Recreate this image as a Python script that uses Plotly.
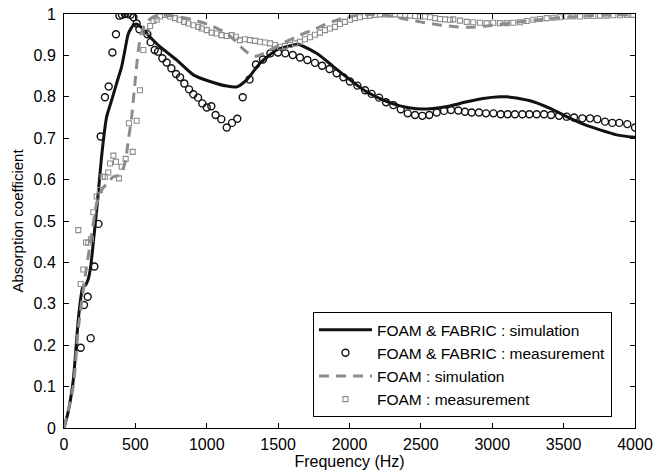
import plotly.graph_objects as go

# FOAM & FABRIC : simulation
ff_sim_f = [0, 30, 65, 100, 120, 131, 150, 170, 187, 205, 229, 268, 299, 334, 369, 404, 427, 451, 486, 509,
            540, 579, 672, 789, 906, 1023, 1140, 1210, 1280, 1373, 1490, 1606, 1640, 1770, 1887, 2004, 2120,
            2237, 2354, 2471, 2587, 2704, 2821, 2937, 3054, 3101, 3170, 3288, 3405, 3521, 3638, 3755, 3872, 4000]
ff_sim_a = [0, 0.04, 0.116, 0.261, 0.32, 0.34, 0.345, 0.36, 0.39, 0.447, 0.527, 0.671, 0.752, 0.792, 0.833,
            0.873, 0.913, 0.953, 0.973, 0.976, 0.968, 0.953, 0.921, 0.889, 0.853, 0.837, 0.826, 0.824, 0.841,
            0.881, 0.913, 0.925, 0.927, 0.905, 0.873, 0.841, 0.812, 0.792, 0.778, 0.771, 0.772, 0.778, 0.788,
            0.796, 0.800, 0.800, 0.797, 0.788, 0.772, 0.752, 0.734, 0.720, 0.708, 0.702]

# FOAM & FABRIC : measurement
ff_meas_f = [117, 140, 166, 187, 213, 241, 257, 287, 313, 339, 364, 388, 406, 427, 446, 467, 486, 509, 528,
             584, 607, 635, 659, 689, 719, 752, 785, 813, 843, 876, 906, 939, 969, 1000, 1032, 1062, 1102,
             1140, 1177, 1214, 1252, 1300, 1345, 1394, 1446, 1499, 1550, 1602, 1653, 1705, 1758, 1808, 1860,
             1910, 1957, 2003, 2055, 2109, 2155, 2207, 2256, 2307, 2359, 2408, 2459, 2510, 2559, 2611, 2662,
             2711, 2762, 2809, 2856, 2907, 2956, 3008, 3059, 3108, 3159, 3211, 3260, 3311, 3363, 3412, 3468,
             3521, 3573, 3631, 3685, 3736, 3790, 3841, 3890, 3946, 4000]
ff_meas_a = [0.194, 0.297, 0.317, 0.217, 0.390, 0.493, 0.704, 0.799, 0.825, 0.907, 0.951, 0.996, 0.998, 1.000,
             1.000, 0.998, 0.992, 0.977, 0.963, 0.951, 0.932, 0.913, 0.909, 0.893, 0.883, 0.869, 0.855, 0.847,
             0.832, 0.818, 0.806, 0.798, 0.784, 0.774, 0.777, 0.756, 0.746, 0.726, 0.737, 0.747, 0.799, 0.842,
             0.878, 0.890, 0.905, 0.907, 0.905, 0.901, 0.895, 0.889, 0.882, 0.875, 0.867, 0.857, 0.847, 0.837,
             0.827, 0.816, 0.807, 0.798, 0.787, 0.780, 0.770, 0.760, 0.756, 0.754, 0.756, 0.762, 0.766, 0.768,
             0.767, 0.764, 0.762, 0.762, 0.760, 0.760, 0.758, 0.758, 0.758, 0.758, 0.758, 0.758, 0.758, 0.756,
             0.754, 0.752, 0.750, 0.748, 0.748, 0.746, 0.740, 0.737, 0.737, 0.734, 0.726]

# FOAM : simulation
fo_sim_f = [0, 65, 100, 150, 190, 229, 264, 299, 346, 392, 427, 451, 474, 497, 521, 544, 579, 626, 672, 766,
            906, 1023, 1140, 1200, 1256, 1300, 1345, 1400, 1536, 1653, 1746, 1875, 2004, 2150, 2237, 2354,
            2494, 2622, 2751, 2849, 2961, 3101, 3241, 3405, 3638, 3872, 4000]
fo_sim_a = [0, 0.10, 0.24, 0.37, 0.46, 0.543, 0.575, 0.59, 0.607, 0.611, 0.64, 0.696, 0.752, 0.833, 0.913,
            0.957, 0.981, 0.993, 0.998, 0.995, 0.986, 0.973, 0.953, 0.935, 0.915, 0.903, 0.898, 0.905, 0.930,
            0.949, 0.962, 0.981, 0.994, 0.999, 0.999, 0.990, 0.981, 0.974, 0.969, 0.968, 0.971, 0.977, 0.983,
            0.989, 0.995, 0.998, 0.998]

# FOAM : measurement
fo_meas_f = [100, 117, 135, 154, 170, 189, 205, 229, 252, 271, 287, 310, 322, 346, 364, 385, 404, 432, 455,
             481, 509, 532, 556, 579, 603, 626, 649, 672, 708, 743, 778, 809, 841, 871, 906, 941, 965, 1000,
             1034, 1069, 1104, 1139, 1174, 1204, 1232, 1267, 1302, 1338, 1373, 1408, 1443, 1478, 1513, 1548,
             1583, 1618, 1653, 1688, 1723, 1758, 1793, 1828, 1863, 1898, 1933, 1968, 2003, 2038, 2073, 2108,
             2143, 2178, 2214, 2249, 2284, 2319, 2354, 2389, 2424, 2459, 2494, 2529, 2564, 2599, 2634, 2669,
             2704, 2727, 2774, 2821, 2867, 2914, 2961, 3007, 3054, 3101, 3147, 3194, 3241, 3288, 3334, 3381,
             3428, 3474, 3521, 3568, 3615, 3661, 3708, 3755, 3801, 3848, 3895, 3942, 3988]
fo_meas_a = [0.478, 0.348, 0.383, 0.448, 0.448, 0.456, 0.521, 0.559, 0.575, 0.607, 0.607, 0.617, 0.639, 0.658,
             0.643, 0.603, 0.631, 0.650, 0.736, 0.667, 0.742, 0.816, 0.913, 0.957, 0.971, 0.983, 0.986, 0.994,
             0.998, 0.994, 0.990, 0.986, 0.981, 0.977, 0.973, 0.969, 0.965, 0.961, 0.955, 0.953, 0.949, 0.947,
             0.949, 0.945, 0.937, 0.939, 0.937, 0.935, 0.933, 0.931, 0.929, 0.925, 0.921, 0.923, 0.925, 0.929,
             0.933, 0.939, 0.944, 0.950, 0.955, 0.961, 0.965, 0.969, 0.976, 0.981, 0.986, 0.990, 0.992, 0.995,
             0.996, 0.998, 0.999, 0.999, 0.999, 0.999, 0.998, 0.998, 0.996, 0.995, 0.994, 0.994, 0.992, 0.990,
             0.988, 0.987, 0.986, 0.987, 0.984, 0.981, 0.980, 0.979, 0.978, 0.979, 0.978, 0.978, 0.979, 0.980,
             0.983, 0.986, 0.988, 0.990, 0.991, 0.992, 0.994, 0.994, 0.994, 0.995, 0.995, 0.996, 0.996, 0.997,
             0.997, 0.998, 0.998]

x_ticks = [0, 500, 1000, 1500, 2000, 2500, 3000, 3500, 4000]
y_ticks = [0, 0.1, 0.2, 0.3, 0.4, 0.5, 0.6, 0.7, 0.8, 0.9, 1]
y_tick_text = ["0", "0.1", "0.2", "0.3", "0.4", "0.5", "0.6", "0.7", "0.8", "0.9", "1"]

FONT = "Liberation Sans, Arial, Helvetica, sans-serif"
GREY = "#8c8c8c"

fig = go.Figure()
fig.add_trace(go.Scatter(x=ff_sim_f, y=ff_sim_a, mode="lines", name="FOAM & FABRIC : simulation",
                         line=dict(color="#111111", width=3, shape="spline", smoothing=0.6)))
fig.add_trace(go.Scatter(x=ff_meas_f, y=ff_meas_a, mode="markers", name="FOAM & FABRIC : measurement",
                         marker=dict(symbol="circle-open", size=7, color="#111111", line=dict(width=1.4))))
fig.add_trace(go.Scatter(x=fo_sim_f, y=fo_sim_a, mode="lines", name="FOAM : simulation",
                         line=dict(color=GREY, width=3, dash="10px,7px", shape="spline", smoothing=0.6)))
fig.add_trace(go.Scatter(x=fo_meas_f, y=fo_meas_a, mode="markers", name="FOAM : measurement",
                         marker=dict(symbol="square-open", size=5, color=GREY, line=dict(width=1.1))))

axis_common = dict(showline=True, linecolor="black", linewidth=1, mirror="ticks", ticks="inside",
                   ticklen=5, tickcolor="black", showgrid=False, zeroline=False, automargin=False,
                   tickfont=dict(family=FONT, size=16, color="black"))

fig.update_layout(
    width=665, height=471,
    margin=dict(l=64, r=30, t=14, b=43),
    paper_bgcolor="white", plot_bgcolor="white",
    font=dict(family=FONT, size=16, color="black"),
    xaxis=dict(range=[0, 4000], tickvals=x_ticks, ticktext=[str(v) for v in x_ticks],
               ticklabelstandoff=2,
               title=dict(text="Frequency (Hz)", font=dict(family=FONT, size=16), standoff=0),
               **axis_common),
    yaxis=dict(range=[0, 1], tickvals=y_ticks, ticktext=y_tick_text,
               ticklabelstandoff=4,
               title=dict(text="Absorption coefficient", font=dict(family=FONT, size=15), standoff=6),
               **axis_common),
    legend=dict(x=0.436, y=0.28, xanchor="left", yanchor="top", bgcolor="white",
                bordercolor="black", borderwidth=1, font=dict(family=FONT, size=15.5),
                itemwidth=53, tracegroupgap=0),
    showlegend=True,
)

fig.write_html("out.html")
